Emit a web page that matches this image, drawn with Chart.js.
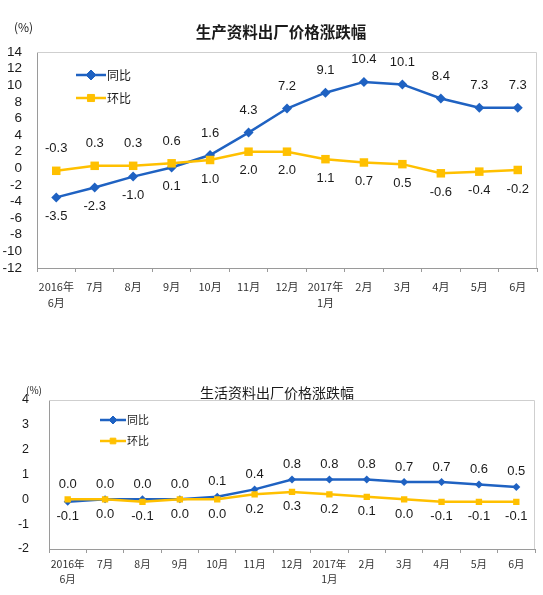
<!DOCTYPE html>
<html>
<head>
<meta charset="utf-8">
<script src="https://cdn.jsdelivr.net/npm/chart.js@4/dist/chart.umd.min.js"></script>
<style>
  html, body { margin: 0; padding: 0; background: #fff; }
  .wrap { position: relative; width: 543px; height: 595px; }
  .wrap canvas { position: absolute; left: 0; }
  #producerChart { top: 0; }
  #consumerChart { top: 360px; }
</style>
</head>
<body>
<div class="wrap">
  <canvas id="producerChart" width="543" height="320"></canvas>
  <canvas id="consumerChart" width="543" height="235"></canvas>
</div>
<script>
var months = [["2016年", "6月"], "7月", "8月", "9月", "10月", "11月", "12月", ["2017年", "1月"], "2月", "3月", "4月", "5月", "6月"];
var seriesNames = ["同比", "环比"];

var producerYoY = [-3.5, -2.3, -1.0, 0.1, 1.6, 4.3, 7.2, 9.1, 10.4, 10.1, 8.4, 7.3, 7.3];
var producerMoM = [-0.3, 0.3, 0.3, 0.6, 1.0, 2.0, 2.0, 1.1, 0.7, 0.5, -0.6, -0.4, -0.2];
var producerAxis = [-12, 14, 2];

var consumerYoY = [-0.1, 0.0, 0.0, 0.0, 0.1, 0.4, 0.8, 0.8, 0.8, 0.7, 0.7, 0.6, 0.5];
var consumerMoM = [0.0, 0.0, -0.1, 0.0, 0.0, 0.2, 0.3, 0.2, 0.1, 0.0, -0.1, -0.1, -0.1];
var consumerAxis = [-2, 4, 1];

var BLUE = "#1f62c2";
var YELLOW = "#ffc000";
var NUM_FONT = "'Liberation Sans', Arial, sans-serif";
var CJK_FONT = "'Noto Sans CJK SC', sans-serif";

// value labels: the higher of the two series goes above its point, the lower one below
var pointLabels = {
  id: "pointLabels",
  afterDatasetsDraw: function (chart, args, opts) {
    var ctx = chart.ctx;
    var sets = chart.data.datasets;
    ctx.save();
    ctx.font = opts.font;
    ctx.fillStyle = "#1a1a1a";
    ctx.textAlign = "center";
    ctx.textBaseline = "middle";
    sets.forEach(function (ds, i) {
      var other = sets[1 - i].data;
      chart.getDatasetMeta(i).data.forEach(function (pt, j) {
        var v = ds.data[j];
        var above = v > other[j] || (v === other[j] && i === 0);
        ctx.fillText(v.toFixed(1), pt.x, above ? pt.y - opts.above : pt.y + opts.below);
      });
    });
    ctx.restore();
  }
};

var innerLegend = {
  id: "innerLegend",
  afterDraw: function (chart, args, opts) {
    var ctx = chart.ctx;
    ctx.save();
    chart.data.datasets.forEach(function (ds, i) {
      var y = opts.y + i * opts.gap;
      ctx.strokeStyle = ds.borderColor;
      ctx.lineWidth = ds.borderWidth;
      ctx.beginPath();
      ctx.moveTo(opts.x, y);
      ctx.lineTo(opts.x + opts.len, y);
      ctx.stroke();
      ctx.fillStyle = ds.backgroundColor;
      ctx.lineWidth = 1;
      Chart.helpers.drawPoint(ctx, { pointStyle: ds.pointStyle, radius: opts.radius, borderWidth: 1 }, opts.x + opts.len / 2, y);
      ctx.fillStyle = "#1a1a1a";
      ctx.font = opts.font;
      ctx.textAlign = "left";
      ctx.textBaseline = "middle";
      ctx.fillText(ds.label, opts.x + opts.len + 1, y);
    });
    ctx.restore();
  }
};

var plotFrame = {
  id: "plotFrame",
  beforeDatasetsDraw: function (chart) {
    var a = chart.chartArea, ctx = chart.ctx;
    ctx.save();
    ctx.strokeStyle = "#cfcfcf";
    ctx.lineWidth = 1;
    ctx.beginPath();
    ctx.moveTo(a.left, a.top + 0.5);
    ctx.lineTo(a.right - 0.5, a.top + 0.5);
    ctx.lineTo(a.right - 0.5, a.bottom);
    ctx.stroke();
    ctx.restore();
  }
};

var header = {
  id: "header",
  afterDraw: function (chart, args, opts) {
    var ctx = chart.ctx;
    ctx.save();
    ctx.fillStyle = "#1a1a1a";
    ctx.textBaseline = "middle";
    ctx.textAlign = "center";
    ctx.font = opts.titleFont;
    ctx.fillText(opts.title, opts.titleX, opts.titleY);
    ctx.textAlign = "left";
    ctx.font = opts.unitFont;
    ctx.fillText("(%)", opts.unitX, opts.unitY);
    ctx.restore();
  }
};

function buildChart(id, yoy, mom, axis, look) {
  var el = document.getElementById(id);
  return new Chart(el, {
    type: "line",
    data: {
      labels: months,
      datasets: [{
        label: seriesNames[0],
        data: yoy,
        borderColor: BLUE,
        backgroundColor: BLUE,
        borderWidth: look.lineWidth,
        pointStyle: "rectRot",
        pointRadius: look.diamond,
        pointBorderWidth: 0,
        tension: 0,
        order: 1
      }, {
        label: seriesNames[1],
        data: mom,
        borderColor: YELLOW,
        backgroundColor: YELLOW,
        borderWidth: look.lineWidth,
        pointStyle: "rect",
        pointRadius: look.square,
        pointBorderWidth: 0,
        tension: 0,
        order: 0
      }]
    },
    options: {
      responsive: false,
      animation: false,
      layout: { padding: { top: look.top, right: look.right, left: 0, bottom: 0 } },
      plugins: {
        legend: { display: false },
        tooltip: { enabled: false },
        title: { display: false },
        pointLabels: { font: look.labelFont, above: look.above, below: look.below },
        innerLegend: look.legend,
        header: look.header
      },
      scales: {
        x: {
          offset: true,
          grid: { display: true, drawOnChartArea: false, drawTicks: true, tickLength: 4, offset: true, color: "#9a9a9a" },
          border: { display: true, color: "#9a9a9a" },
          ticks: {
            autoSkip: false,
            maxRotation: 0,
            padding: look.xPad,
            color: "#333",
            font: { family: CJK_FONT, size: look.xFont, lineHeight: look.xLine }
          },
          afterFit: function (scale) { scale.height = look.xHeight; }
        },
        y: {
          min: axis[0],
          max: axis[1],
          grid: { display: false },
          border: { display: true, color: "#9a9a9a" },
          ticks: {
            autoSkip: false,
            stepSize: axis[2],
            padding: look.yPad,
            color: "#1a1a1a",
            font: { family: NUM_FONT, size: look.yFont }
          },
          afterFit: function (scale) { scale.width = look.yWidth; }
        }
      }
    },
    plugins: [plotFrame, pointLabels, innerLegend, header]
  });
}

buildChart("producerChart", producerYoY, producerMoM, producerAxis, {
  top: 52, right: 2, yWidth: 37, xHeight: 52, yPad: 7, xPad: 7,
  yFont: 13.5, xFont: 11, xLine: 1.45,
  lineWidth: 2.5, diamond: 5, square: 6,
  labelFont: "13px " + NUM_FONT, above: 22, below: 19,
  legend: { x: 76, y: 75, gap: 23, len: 30, radius: 5, font: "12px " + CJK_FONT },
  header: { title: "生产资料出厂价格涨跌幅", titleX: 281, titleY: 32, titleFont: "bold 15.5px " + CJK_FONT,
            unitX: 14, unitY: 27, unitFont: "12px " + CJK_FONT }
});

buildChart("consumerChart", consumerYoY, consumerMoM, consumerAxis, {
  top: 40, right: 8, yWidth: 49, xHeight: 46, yPad: 12, xPad: 4,
  yFont: 12.5, xFont: 10.5, xLine: 1.4,
  lineWidth: 2.5, diamond: 4, square: 4.5,
  labelFont: "13px " + NUM_FONT, above: 15, below: 15,
  legend: { x: 100, y: 60, gap: 21, len: 26, radius: 4, font: "11px " + CJK_FONT },
  header: { title: "生活资料出厂价格涨跌幅", titleX: 277, titleY: 33, titleFont: "14px " + CJK_FONT,
            unitX: 26, unitY: 30, unitFont: "10px " + CJK_FONT }
});
</script>
</body>
</html>
